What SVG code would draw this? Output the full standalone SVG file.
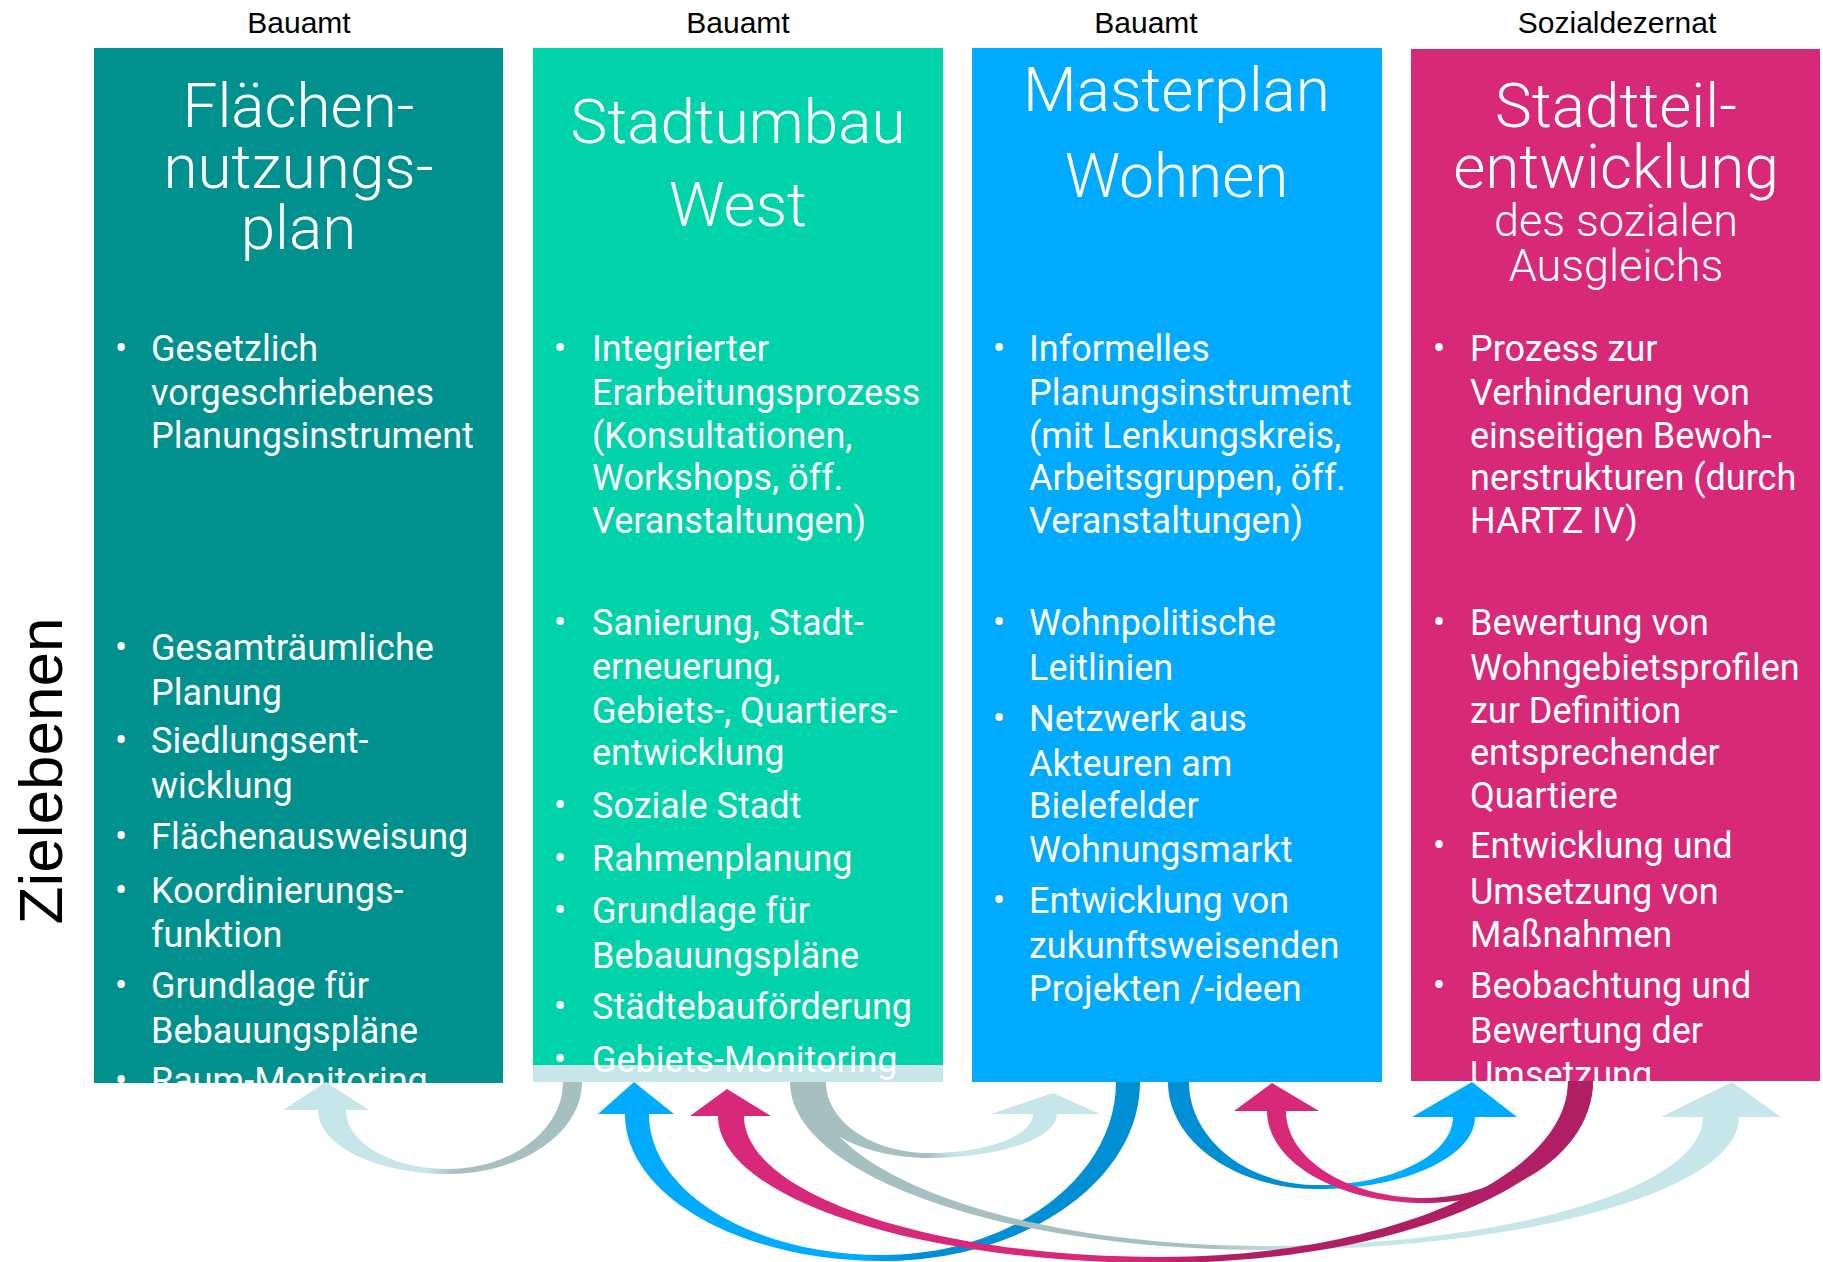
<svg xmlns="http://www.w3.org/2000/svg" width="1823" height="1262" viewBox="0 0 1823 1262">
<style>
.hdr{font-family:"Liberation Sans",Arial,sans-serif;font-size:30px;fill:#000;text-anchor:middle}
.ttl{font-family:Roboto,"Liberation Sans",sans-serif;font-weight:300;font-size:62px;fill:#fff;text-anchor:middle}
.ttls{font-size:45px}
.txt{font-family:Roboto,"Liberation Sans",sans-serif;font-size:36px;fill:#fff}
.bul{font-family:Roboto,"Liberation Sans",sans-serif;font-size:36px;fill:#fff;text-anchor:middle}
.side{font-family:"Liberation Sans",Arial,sans-serif;font-size:62px;fill:#000;text-anchor:middle}
</style>
<defs>
<clipPath id="c1"><rect x="94" y="48" width="409" height="1035"/></clipPath>
<clipPath id="c2"><rect x="533" y="48" width="410" height="1034"/></clipPath>
<clipPath id="c3"><rect x="972" y="48" width="410" height="1034"/></clipPath>
<clipPath id="c4"><rect x="1411" y="49" width="409" height="1032"/></clipPath>
<linearGradient id="grayL" x1="0" y1="0" x2="1" y2="0"><stop offset="0" stop-color="#a6c0c2"/><stop offset="0.42" stop-color="#a6c0c2"/><stop offset="0.52" stop-color="#c7e6e9"/><stop offset="1" stop-color="#c7e6e9"/></linearGradient>
<linearGradient id="grayR" x1="1" y1="0" x2="0" y2="0"><stop offset="0" stop-color="#a6c0c2"/><stop offset="0.42" stop-color="#a6c0c2"/><stop offset="0.52" stop-color="#c7e6e9"/><stop offset="1" stop-color="#c7e6e9"/></linearGradient>
<linearGradient id="blueL" x1="0" y1="0" x2="1" y2="0"><stop offset="0" stop-color="#008fd5"/><stop offset="0.42" stop-color="#008fd5"/><stop offset="0.52" stop-color="#00aaff"/><stop offset="1" stop-color="#00aaff"/></linearGradient>
<linearGradient id="blueR" x1="1" y1="0" x2="0" y2="0"><stop offset="0" stop-color="#008fd5"/><stop offset="0.42" stop-color="#008fd5"/><stop offset="0.52" stop-color="#00aaff"/><stop offset="1" stop-color="#00aaff"/></linearGradient>
<linearGradient id="magR" x1="1" y1="0" x2="0" y2="0"><stop offset="0" stop-color="#b01e64"/><stop offset="0.42" stop-color="#b01e64"/><stop offset="0.52" stop-color="#d72879"/><stop offset="1" stop-color="#d72879"/></linearGradient>
</defs>

<g id="label-zielebenen">
<text class="side" transform="translate(62,771) rotate(-90)">Zielebenen</text>
</g>

<g id="node-flaechennutzungsplan">
<text class="hdr" x="299" y="33">Bauamt</text>
<rect x="94" y="48" width="409" height="1035" fill="#00918f"/>
<g clip-path="url(#c1)">
<text class="ttl"><tspan x="298.5" y="127">Flächen-</tspan><tspan x="298.5" y="188">nutzungs-</tspan><tspan x="298.5" y="249">plan</tspan></text>
<text class="bul" x="121" y="361">•</text>
<text class="txt"><tspan x="151" y="361">Gesetzlich</tspan><tspan x="151" y="405">vorgeschriebenes</tspan><tspan x="151" y="448">Planungsinstrument</tspan></text>
<text class="bul" x="121" y="660">•</text>
<text class="txt"><tspan x="151" y="660">Gesamträumliche</tspan><tspan x="151" y="705">Planung</tspan></text>
<text class="bul" x="121" y="753">•</text>
<text class="txt"><tspan x="151" y="753">Siedlungsent-</tspan><tspan x="151" y="798">wicklung</tspan></text>
<text class="bul" x="121" y="849">•</text>
<text class="txt" x="151" y="849">Flächenausweisung</text>
<text class="bul" x="121" y="903">•</text>
<text class="txt"><tspan x="151" y="903">Koordinierungs-</tspan><tspan x="151" y="947">funktion</tspan></text>
<text class="bul" x="121" y="998">•</text>
<text class="txt"><tspan x="151" y="998">Grundlage für</tspan><tspan x="151" y="1043">Bebauungspläne</tspan></text>
<text class="bul" x="121" y="1093">•</text>
<text class="txt" x="151" y="1093">Raum-Monitoring</text>
</g>
</g>

<g id="node-stadtumbau-west">
<text class="hdr" x="738" y="33">Bauamt</text>
<rect x="533" y="48" width="410" height="1034" fill="#00d2aa"/>
<rect x="533" y="1065" width="410" height="17" fill="#c7e6e9"/>
<g clip-path="url(#c2)">
<text class="ttl"><tspan x="738" y="143">Stadtumbau</tspan><tspan x="738" y="226">West</tspan></text>
<text class="bul" x="560" y="361">•</text>
<text class="txt"><tspan x="592" y="361">Integrierter</tspan><tspan x="592" y="405">Erarbeitungsprozess</tspan><tspan x="592" y="448">(Konsultationen,</tspan><tspan x="592" y="490">Workshops, öff.</tspan><tspan x="592" y="533">Veranstaltungen)</tspan></text>
<text class="bul" x="560" y="635">•</text>
<text class="txt"><tspan x="592" y="635">Sanierung, Stadt-</tspan><tspan x="592" y="679">erneuerung,</tspan><tspan x="592" y="723">Gebiets-, Quartiers-</tspan><tspan x="592" y="765">entwicklung</tspan></text>
<text class="bul" x="560" y="818">•</text>
<text class="txt" x="592" y="818">Soziale Stadt</text>
<text class="bul" x="560" y="871">•</text>
<text class="txt" x="592" y="871">Rahmenplanung</text>
<text class="bul" x="560" y="923">•</text>
<text class="txt"><tspan x="592" y="923">Grundlage für</tspan><tspan x="592" y="968">Bebauungspläne</tspan></text>
<text class="bul" x="560" y="1019">•</text>
<text class="txt" x="592" y="1019">Städtebauförderung</text>
<text class="bul" x="560" y="1072">•</text>
<text class="txt" x="592" y="1072">Gebiets-Monitoring</text>
</g>
</g>

<g id="node-masterplan-wohnen">
<text class="hdr" x="1146" y="33">Bauamt</text>
<rect x="972" y="48" width="410" height="1034" fill="#00aaff"/>
<g clip-path="url(#c3)">
<text class="ttl"><tspan x="1176.5" y="111">Masterplan</tspan><tspan x="1176.5" y="197">Wohnen</tspan></text>
<text class="bul" x="999" y="361">•</text>
<text class="txt"><tspan x="1029" y="361">Informelles</tspan><tspan x="1029" y="405">Planungsinstrument</tspan><tspan x="1029" y="448">(mit Lenkungskreis,</tspan><tspan x="1029" y="490">Arbeitsgruppen, öff.</tspan><tspan x="1029" y="533">Veranstaltungen)</tspan></text>
<text class="bul" x="999" y="635">•</text>
<text class="txt"><tspan x="1029" y="635">Wohnpolitische</tspan><tspan x="1029" y="680">Leitlinien</tspan></text>
<text class="bul" x="999" y="731">•</text>
<text class="txt"><tspan x="1029" y="731">Netzwerk aus</tspan><tspan x="1029" y="776">Akteuren am</tspan><tspan x="1029" y="818">Bielefelder</tspan><tspan x="1029" y="862">Wohnungsmarkt</tspan></text>
<text class="bul" x="999" y="913">•</text>
<text class="txt"><tspan x="1029" y="913">Entwicklung von</tspan><tspan x="1029" y="958">zukunftsweisenden</tspan><tspan x="1029" y="1001">Projekten /-ideen</tspan></text>
</g>
</g>

<g id="node-stadtteilentwicklung">
<text class="hdr" x="1617" y="33">Sozialdezernat</text>
<rect x="1411" y="49" width="409" height="1032" fill="#d82878"/>
<g clip-path="url(#c4)">
<text class="ttl"><tspan x="1616" y="127">Stadtteil-</tspan><tspan x="1616" y="188">entwicklung</tspan><tspan class="ttls" x="1616" y="236">des sozialen</tspan><tspan class="ttls" x="1616" y="281">Ausgleichs</tspan></text>
<text class="bul" x="1439" y="361">•</text>
<text class="txt"><tspan x="1470" y="361">Prozess zur</tspan><tspan x="1470" y="405">Verhinderung von</tspan><tspan x="1470" y="448">einseitigen Bewoh-</tspan><tspan x="1470" y="490">nerstrukturen (durch</tspan><tspan x="1470" y="533">HARTZ IV)</tspan></text>
<text class="bul" x="1439" y="635">•</text>
<text class="txt"><tspan x="1470" y="635">Bewertung von</tspan><tspan x="1470" y="680">Wohngebietsprofilen</tspan><tspan x="1470" y="723">zur Definition</tspan><tspan x="1470" y="765">entsprechender</tspan><tspan x="1470" y="808">Quartiere</tspan></text>
<text class="bul" x="1439" y="858">•</text>
<text class="txt"><tspan x="1470" y="858">Entwicklung und</tspan><tspan x="1470" y="904">Umsetzung von</tspan><tspan x="1470" y="947">Maßnahmen</tspan></text>
<text class="bul" x="1439" y="998">•</text>
<text class="txt"><tspan x="1470" y="998">Beobachtung und</tspan><tspan x="1470" y="1043">Bewertung der</tspan><tspan x="1470" y="1087">Umsetzung</tspan></text>
</g>
</g>

<g id="connectors">
<path id="arrow-mw-sw" fill="url(#blueR)" d="M1140,1082 C1140,1180.9 1024.5,1261 882,1261 C740.1,1261 625,1195.2 625,1114 L598,1114 L634,1082 L674,1114 L649,1114 C649,1191.9 753.3,1255 882,1255 C1011.2,1255 1116,1177.5 1116,1082 Z"/>
<path id="arrow-mw-se" fill="url(#blueL)" d="M1168,1082 C1168,1141.1 1235.2,1189 1318,1189 C1404.7,1189 1475,1156.8 1475,1117 L1517,1117 L1472,1082 L1412,1117 L1453,1117 C1453,1154.6 1392.6,1185 1318,1185 C1246.8,1185 1189,1138.9 1189,1082 Z"/>
<path id="arrow-sw-se" fill="url(#grayL)" d="M790,1082 C790,1174.8 1002.7,1250 1265,1250 C1526.8,1250 1739,1190.5 1739,1117 L1781,1117 L1732,1082 L1661,1117 L1703,1117 C1703,1188.2 1506.9,1246 1265,1246 C1015.9,1246 814,1172.6 814,1082 Z"/>
<path id="arrow-sw-mw" fill="url(#grayL)" d="M800,1082 C800,1124 857.8,1158 929,1158 C999.7,1158 1057,1138.3 1057,1114 L1100,1114 L1053,1093 L991,1114 L1033,1114 C1033,1135.5 986.4,1153 929,1153 C872.1,1153 826,1121.2 826,1082 Z"/>
<path id="arrow-sw-fnp" fill="url(#grayR)" d="M582,1082 C582,1132.8 522,1174 448,1174 C376.2,1174 318,1145.3 318,1110 L283,1110 L326,1082 L369,1110 L346,1110 C346,1142.6 391.7,1169 448,1169 C511.5,1169 563,1130 563,1082 Z"/>
<path id="arrow-se-sw" fill="url(#magR)" d="M1593,1081 C1593,1181.5 1399.1,1263 1160,1263 C915.9,1263 718,1197.2 718,1116 L690,1116 L727,1089 L771,1116 L744,1116 C744,1193.9 930.2,1257 1160,1257 C1385.3,1257 1568,1178.2 1568,1081 Z"/>
<path id="arrow-se-mw" fill="url(#magR)" d="M1593,1081 C1593,1148.4 1517.8,1203 1425,1203 C1337.7,1203 1267,1161.8 1267,1111 L1234,1111 L1272,1083 L1319,1111 L1286,1111 C1286,1159.1 1348.2,1198 1425,1198 C1504,1198 1568,1145.6 1568,1081 Z"/>
</g>
</svg>
